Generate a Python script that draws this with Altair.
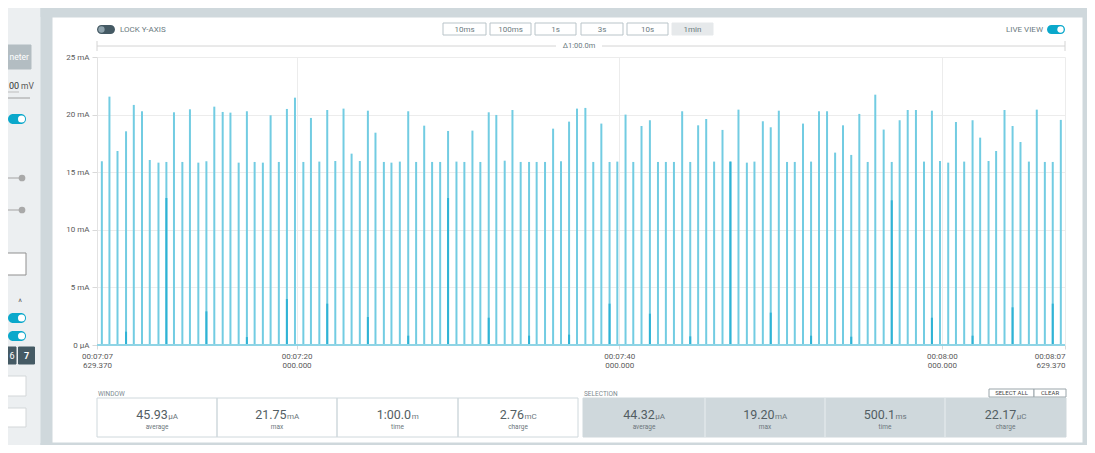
import altair as alt
import pandas as pd

# ---------------- data ----------------
# spike times in seconds after 00:07:00, and spike peaks in mA
spike_t = [7.93, 8.40, 8.90, 9.43, 9.91, 10.42, 10.90, 11.44, 11.93, 12.40,
           12.92, 13.39, 13.91, 14.41, 14.90, 15.42, 15.90, 16.41, 16.92, 17.40,
           17.91, 18.39, 18.90, 19.40, 19.90, 20.42, 20.89, 21.41, 21.90, 22.40,
           22.91, 23.41, 23.92, 24.42, 24.89, 25.41, 25.88, 26.40, 26.92, 27.41,
           27.91, 28.40, 28.90, 29.39, 29.91, 30.40, 30.90, 31.39, 31.91, 32.38,
           32.90, 33.38, 33.89, 34.41, 34.88, 35.40, 35.90, 36.39, 36.89, 37.38,
           37.90, 38.39, 38.89, 39.40, 39.88, 40.39, 40.87, 41.38, 41.90, 42.40,
           42.89, 43.39, 43.90, 44.40, 44.89, 45.39, 45.88, 46.40, 46.89, 47.39,
           47.91, 48.38, 48.90, 49.39, 49.89, 50.40, 50.88, 51.39, 51.89, 52.38,
           52.88, 53.38, 53.87, 54.38, 54.88, 55.40, 55.87, 56.39, 56.89, 57.38,
           57.88, 58.39, 58.89, 59.38, 59.88, 60.39, 60.87, 61.38, 61.90, 62.37,
           62.89, 63.36, 63.88, 64.38, 64.87, 65.39, 65.88, 66.38, 66.87, 67.37]
spike_ma = [15.95, 21.56, 16.84, 18.55, 20.84, 20.29, 16.06, 15.83, 15.89, 20.20,
            15.89, 20.46, 15.83, 15.95, 20.69, 20.23, 20.17, 15.83, 20.29, 15.89,
            15.83, 19.94, 15.89, 20.49, 21.47, 15.89, 19.71, 15.92, 20.40, 15.97,
            20.52, 16.61, 15.97, 20.34, 18.43, 15.89, 15.83, 15.92, 20.29, 15.89,
            19.04, 15.89, 15.89, 18.58, 15.92, 15.89, 18.61, 15.89, 20.20, 19.97,
            16.00, 20.40, 15.89, 15.89, 15.89, 15.89, 18.78, 15.95, 19.39, 20.52,
            20.58, 15.89, 19.22, 15.89, 15.92, 20.00, 15.89, 19.01, 19.51, 15.89,
            15.89, 15.89, 20.29, 15.89, 19.07, 19.62, 15.92, 18.67, 15.92, 20.43,
            15.83, 15.92, 19.42, 18.90, 20.34, 15.89, 15.89, 19.22, 15.92, 20.29,
            20.29, 16.70, 19.07, 16.50, 20.06, 15.89, 21.73, 18.70, 15.89, 19.51,
            20.40, 20.40, 15.92, 20.34, 15.97, 15.83, 19.36, 15.92, 19.51, 18.00,
            15.97, 16.84, 20.40, 19.01, 17.62, 15.92, 20.43, 15.89, 15.89, 19.54]
# darker secondary pulses (seconds after 00:07:00, mA)
sec_t = [9.43, 11.93, 14.41, 16.92, 19.40, 21.90, 24.42, 26.92, 29.39, 31.91,
         34.41, 36.89, 39.40, 41.90, 44.40, 46.89, 49.39, 51.89, 54.38, 56.89,
         59.38, 61.90, 64.38, 66.87]
sec_ma = [1.16, 12.76, 2.92, 0.69, 3.99, 3.59, 2.43, 0.81, 12.76, 2.37,
          0.81, 0.90, 3.59, 2.72, 0.75, 15.92, 2.81, 0.81, 0.72, 12.56,
          2.37, 0.81, 3.27, 3.59]
floor_ma = 0.0046
x_start = 7.62937
x_end = 67.62937

x_ticks = [7.62937, 20, 40, 60, 67.62937]
x_tick_labels = [["00:07:07", "629.370"], ["00:07:20", "000.000"],
                 ["00:07:40", "000.000"], ["00:08:00", "000.000"],
                 ["00:08:07", "629.370"]]
y_ticks = [0, 5, 10, 15, 20, 25]
y_tick_labels = ["0 µA", "5 mA", "10 mA", "15 mA", "20 mA", "25 mA"]

window_values = ["45.93", "21.75", "1:00.0", "2.76"]
window_units = ["µA", "mA", "m", "mC"]
selection_values = ["44.32", "19.20", "500.1", "22.17"]
selection_units = ["µA", "mA", "ms", "µC"]
stat_names = ["average", "max", "time", "charge"]
zoom_buttons = ["10ms", "100ms", "1s", "3s", "10s", "1min"]
delta_label = "Δ1:00.0m"

# ---------------- layout ----------------
FONT = "Roboto"
W, H = 968, 288
OX, OY = 97, 57          # page position of the plot origin
PAD = {"left": 89, "top": 49, "right": 22, "bottom": 100}

def arr(lst):
    return "[" + ",".join("'" + s + "'" for s in lst) + "]"

x_expr = "''"
for v, lab in reversed(list(zip(x_ticks, x_tick_labels))):
    x_expr = f"abs(datum.value - {v}) < 0.01 ? {arr(lab)} : {x_expr}"
y_expr = "''"
for v, lab in reversed(list(zip(y_ticks, y_tick_labels))):
    y_expr = f"abs(datum.value - {v}) < 0.01 ? '{lab}' : {y_expr}"

xscale = alt.Scale(domain=[x_start, x_end], nice=False, zero=False)
yscale = alt.Scale(domain=[0, 25], nice=False)
xaxis = alt.Axis(values=x_ticks, labelExpr=x_expr, title=None, grid=True,
                 domain=False, tickSize=4, labelPadding=3, labelFontSize=8,
                 labelColor="#5a5a5a", labelLineHeight=9, labelOverlap=False,
                 labelFont=FONT,
                 labelAlign={"condition": {"test": "datum.value > 67", "value": "right"},
                             "value": "center"})
yaxis = alt.Axis(values=y_ticks, labelExpr=y_expr, title=None, grid=True,
                 domain=True, tickSize=5, labelPadding=3, labelFontSize=8,
                 labelColor="#5a5a5a", labelFont=FONT)

spikes = pd.DataFrame({"t": spike_t, "ma": spike_ma})
secs = pd.DataFrame({"t": sec_t, "ma": sec_ma})
floor_df = pd.DataFrame({"t0": [x_start], "t1": [x_end], "ma": [floor_ma]})

spike_layer = alt.Chart(spikes).mark_rule(color="#72cce2", strokeWidth=2).encode(
    x=alt.X("t:Q", scale=xscale, axis=xaxis),
    y=alt.Y("ma:Q", scale=yscale, axis=yaxis),
    y2=alt.datum(0),
)
sec_layer = alt.Chart(secs).mark_rule(color="#2fb3d5", strokeWidth=2).encode(
    x=alt.X("t:Q", scale=xscale, axis=xaxis),
    y=alt.Y("ma:Q", scale=yscale, axis=yaxis),
    y2=alt.datum(0),
)
floor_layer = alt.Chart(floor_df).mark_rule(color="#8fd4e5", strokeWidth=2).encode(
    x=alt.X("t0:Q", scale=xscale, axis=xaxis),
    x2="t1:Q",
    y=alt.Y("ma:Q", scale=yscale, axis=yaxis),
)
main = alt.layer(spike_layer, sec_layer, floor_layer)

# ---------------- UI chrome (pixel positions) ----------------
def px(v):
    return v - OX

def py(v):
    return v - OY

GRAYBAND = "#cfd8dc"
BLUE = "#0aa8cb"
TXT = "#6b7a80"

rects = [
    (0, 7, 41, 453, "#eceff1", "#eceff1"),
    (41, 7, 52, 453, GRAYBAND, GRAYBAND),
    (41, 7, 1095, 17, GRAYBAND, GRAYBAND),
    (1083, 7, 1095, 453, GRAYBAND, GRAYBAND),
    (41, 443, 1095, 450, GRAYBAND, GRAYBAND),
    (0, 45, 31, 69, "#b3bdc2", "#b3bdc2"),
    (0, 253, 26, 275, "#ffffff", "#8f8f8f"),
    (8, 347, 16, 364, "#455a64", "#455a64"),
    (18.5, 347, 34.5, 364, "#455a64", "#455a64"),
    (0, 376, 26, 396, "#ffffff", "#d3d7d9"),
    (0, 408, 26, 427, "#ffffff", "#d3d7d9"),
    (97, 398, 578, 437, "#ffffff", GRAYBAND),
    (583, 398, 1066, 437, GRAYBAND, GRAYBAND),
    (989, 389, 1034, 397, "#ffffff", "#9aa5aa"),
    (1034, 389, 1066, 397, "#ffffff", "#9aa5aa"),
]
btn_x = [(443, 486), (490, 531), (535, 576), (581, 623), (627, 668), (672, 713)]
for i, (a, b) in enumerate(btn_x):
    if i == len(btn_x) - 1:
        rects.append((a, 23, b, 35, "#e6e9eb", "#e6e9eb"))
    else:
        rects.append((a, 23, b, 35, "#ffffff", "#b9c4c9"))

rect_df = pd.DataFrame(rects, columns=["x1", "y1", "x2", "y2", "fill", "stroke"])
for c in ["x1", "x2"]:
    rect_df[c] = rect_df[c].map(px)
for c in ["y1", "y2"]:
    rect_df[c] = rect_df[c].map(py)

rect_layer = alt.Chart(rect_df).mark_rect(strokeWidth=1).encode(
    x=alt.X("x1:Q", scale=None), x2="x2:Q",
    y=alt.Y("y1:Q", scale=None), y2="y2:Q",
    fill=alt.Fill("fill:N", scale=None),
    stroke=alt.Stroke("stroke:N", scale=None),
)

pills = [
    (8, 114, 26, 124, BLUE),
    (8, 313, 26, 323, BLUE),
    (8, 331, 26, 341, BLUE),
    (97, 25, 115, 34, "#455a64"),
    (1047, 25, 1065, 34, BLUE),
]
pill_df = pd.DataFrame(pills, columns=["x1", "y1", "x2", "y2", "fill"])
for c in ["x1", "x2"]:
    pill_df[c] = pill_df[c].map(px)
for c in ["y1", "y2"]:
    pill_df[c] = pill_df[c].map(py)
pill_layer = alt.Chart(pill_df).mark_rect(cornerRadius=5).encode(
    x=alt.X("x1:Q", scale=None), x2="x2:Q",
    y=alt.Y("y1:Q", scale=None), y2="y2:Q",
    fill=alt.Fill("fill:N", scale=None),
)

lines = [
    (8, 92, 19, 92, "#bdbdbd", 1),
    (0, 98, 30, 98, "#9e9e9e", 1),
    (0, 178, 22, 178, "#bdbdbd", 1.5),
    (0, 210, 22, 210, "#bdbdbd", 1.5),
    (97, 46, 556, 46, "#d4d4d4", 1),
    (602, 46, 1065, 46, "#d4d4d4", 1),
    (97, 41, 97, 51, "#d4d4d4", 1),
    (1065, 41, 1065, 51, "#d4d4d4", 1),
    (217, 398, 217, 437, GRAYBAND, 1.5),
    (337, 398, 337, 437, GRAYBAND, 1.5),
    (458, 398, 458, 437, GRAYBAND, 1.5),
    (705, 398, 705, 437, "#e1e7ea", 1.5),
    (825, 398, 825, 437, "#e1e7ea", 1.5),
    (945, 398, 945, 437, "#e1e7ea", 1.5),
]
line_df = pd.DataFrame(lines, columns=["x1", "y1", "x2", "y2", "c", "w"])
for c in ["x1", "x2"]:
    line_df[c] = line_df[c].map(px)
for c in ["y1", "y2"]:
    line_df[c] = line_df[c].map(py)
line_layer = alt.Chart(line_df).mark_rule().encode(
    x=alt.X("x1:Q", scale=None), x2="x2:Q",
    y=alt.Y("y1:Q", scale=None), y2="y2:Q",
    color=alt.Color("c:N", scale=None),
    strokeWidth=alt.StrokeWidth("w:Q", scale=None),
)

knobs = [
    (21.5, 119, "#ffffff", 50), (21.5, 318, "#ffffff", 50), (21.5, 336, "#ffffff", 50),
    (101.5, 29.5, "#90a4ae", 40), (1060.5, 29.5, "#ffffff", 40),
    (22, 178, "#a9a9a9", 45), (22, 210, "#a9a9a9", 45),
]
knob_df = pd.DataFrame(knobs, columns=["x", "y", "c", "s"])
knob_df["x"] = knob_df["x"].map(px)
knob_df["y"] = knob_df["y"].map(py)
knob_layer = alt.Chart(knob_df).mark_circle(opacity=1).encode(
    x=alt.X("x:Q", scale=None), y=alt.Y("y:Q", scale=None),
    color=alt.Color("c:N", scale=None), size=alt.Size("s:Q", scale=None),
)

# ---------------- texts ----------------
texts = []  # (x, y, text, size, color, align, baseline, weight)
texts.append((9.5, 57, "neter", 8.5, "#ffffff", "left", "middle", "normal"))
texts.append((9, 86, "00", 9, "#333333", "left", "middle", "normal"))
texts.append((21, 86, "mV", 8.5, "#555555", "left", "middle", "normal"))
texts.append((20, 302, "^", 9, "#666666", "center", "middle", "normal"))
texts.append((12, 355.5, "6", 9, "#ffffff", "center", "middle", "normal"))
texts.append((26.5, 355.5, "7", 9, "#ffffff", "center", "middle", "bold"))
texts.append((120, 29.5, "LOCK Y-AXIS", 8, TXT, "left", "middle", "normal"))
texts.append((1043, 29.5, "LIVE VIEW", 8, TXT, "right", "middle", "normal"))
texts.append((579, 46, delta_label, 7.5, TXT, "center", "middle", "normal"))
for (a, b), lab in zip(btn_x, zoom_buttons):
    texts.append(((a + b) / 2, 29.5, lab, 8, TXT, "center", "middle", "normal"))
texts.append((98, 393.5, "WINDOW", 6.5, "#7d8a8f", "left", "middle", "normal"))
texts.append((584, 393.5, "SELECTION", 6.5, "#7d8a8f", "left", "middle", "normal"))
texts.append((1011.5, 393.2, "SELECT ALL", 6, "#444444", "center", "middle", "normal"))
texts.append((1050, 393.2, "CLEAR", 6, "#444444", "center", "middle", "normal"))

CW = {".": 0.26, ":": 0.24, "m": 0.87, "µ": 0.57, "A": 0.65, "C": 0.65, "s": 0.52}

def width(s, fs):
    return sum(CW.get(ch, 0.56) for ch in s) * fs

NUM_FS, UNIT_FS = 12.5, 8
win_centers = [157, 277, 397.5, 518]
sel_centers = [644, 765, 885, 1005.5]
for centers, vals, units in [(win_centers, window_values, window_units),
                             (sel_centers, selection_values, selection_units)]:
    for cx, v, u, n in zip(centers, vals, units, stat_names):
        nw, uw = width(v, NUM_FS), width(u, UNIT_FS)
        split = cx - (nw + uw) / 2 + nw
        texts.append((split, 418.5, v, NUM_FS, "#535e63", "right", "alphabetic", "normal"))
        texts.append((split + 0.5, 418.5, u, UNIT_FS, "#6b767b", "left", "alphabetic", "normal"))
        texts.append((cx, 426.5, n, 6.5, "#6b767b", "center", "middle", "normal"))

text_df = pd.DataFrame(texts, columns=["x", "y", "text", "fs", "c", "align", "baseline", "weight"])
text_df["x"] = text_df["x"].map(px)
text_df["y"] = text_df["y"].map(py)

text_layers = []
for (al, bl, wt), grp in text_df.groupby(["align", "baseline", "weight"]):
    text_layers.append(
        alt.Chart(grp.reset_index(drop=True)).mark_text(
            align=al, baseline=bl, fontWeight=wt, font=FONT
        ).encode(
            x=alt.X("x:Q", scale=None), y=alt.Y("y:Q", scale=None),
            text="text:N",
            size=alt.Size("fs:Q", scale=None),
            color=alt.Color("c:N", scale=None),
        )
    )

chart = alt.layer(
    rect_layer, pill_layer, line_layer, knob_layer, main, *text_layers
).resolve_scale(
    x="independent", y="independent"
).properties(
    width=W, height=H, padding=PAD,
    autosize=alt.AutoSizeParams(type="none"),
    background="#ffffff",
).configure_view(
    strokeWidth=0
).configure_axis(
    gridColor="#ececec", domainColor="#e2e2e2", tickColor="#d9d9d9",
    gridWidth=1, domainWidth=1,
)

chart.save("out.html", embed_options={"renderer": "svg", "actions": False})
